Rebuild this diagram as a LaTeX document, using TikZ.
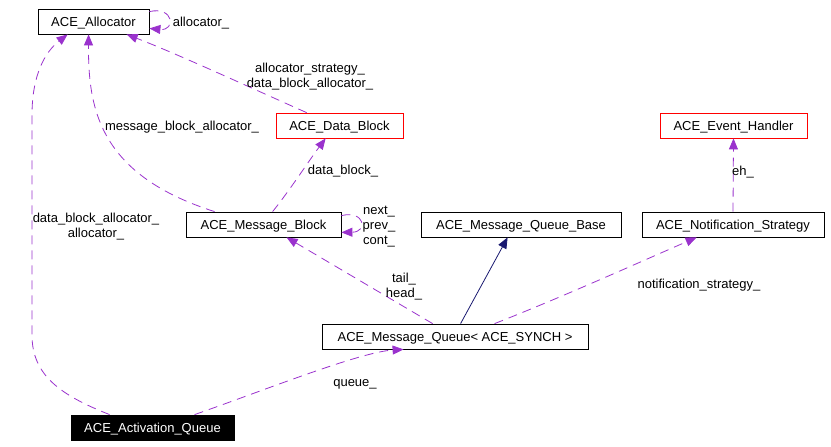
\documentclass[tikz,border=0pt]{standalone}
\usepackage{fontspec}
\setmainfont{Liberation Sans}
\usetikzlibrary{arrows.meta,calc}
\definecolor{edgepurple}{HTML}{9A32CD}
\definecolor{edgenavy}{HTML}{191970}
\begin{document}
\begin{tikzpicture}[x=1pt,y=-1pt,
  font=\fontsize{13}{15}\selectfont,
  cls/.style={draw=black, line width=0.8pt, inner sep=0pt, fill=white, minimum height=25pt,
              text height=9.4pt, text depth=0pt},
  redcls/.style={cls, draw=red},
  usage/.style={draw=edgepurple, line width=0.8pt, dash pattern=on 9pt off 6pt,
                -{Triangle[length=11pt,width=9pt,fill=edgepurple]}},
  inherit/.style={draw=edgenavy, line width=0.8pt,
                -{Triangle[length=11pt,width=9pt,fill=edgenavy]}},
  lbl/.style={inner sep=0pt, text height=9.4pt, text depth=0pt},
  mlbl/.style={inner sep=0pt, align=center}]
\useasboundingbox (0,0) rectangle (831,447);

% classes
\node[cls, minimum width=111pt] (alloc) at (93.5,21.5) {ACE\_Allocator};
\node[redcls, minimum width=127pt] (db) at (339.5,125.5) {ACE\_Data\_Block};
\node[redcls, minimum width=147pt] (eh) at (733.5,125.5) {ACE\_Event\_Handler};
\node[cls, minimum width=155pt] (mb) at (263.5,224.5) {ACE\_Message\_Block};
\node[cls, minimum width=200pt] (mqb) at (521,224.5) {ACE\_Message\_Queue\_Base};
\node[cls, minimum width=182pt] (ns) at (733,224.5) {ACE\_Notification\_Strategy};
\node[cls, minimum width=266pt] (mq) at (455,336.5) {ACE\_Message\_Queue< ACE\_SYNCH >};
\node[cls, fill=black, text=white, minimum width=163pt] (aq) at (152.5,427.5) {ACE\_Activation\_Queue};

% connectors
\draw[usage] ($(alloc.north east)+(0,3)$) .. controls (174,6) and (176,31) .. ($(alloc.south east)+(0,-6)$);
\draw[usage] ($(db.north west)+(31,0)$) .. controls (260,92) and (180,55) .. ($(alloc.south west)+(89,0)$);
\draw[usage] ($(mb.north west)+(29,0)$) .. controls (100,175) and (88,110) .. ($(alloc.south west)+(51,0)$);
\draw[usage] ($(aq.north west)+(39,0)$) .. controls (60,395) and (32,375) .. (32,335)
   -- (32,115) .. controls (32,75) and (45,52) .. ($(alloc.south west)+(30,0)$);
\draw[usage] ($(mb.north west)+(87,0)$) .. controls (290,190) and (308,162) .. ($(db.south west)+(50,0)$);
\draw[usage] ($(mb.north east)+(0,4)$) .. controls (365,210) and (368,232) .. ($(mb.south east)+(0,-5)$);
\draw[usage] ($(mq.north west)+(111,0)$) -- ($(mb.south west)+(101,0)$);
\draw[inherit] ($(mq.north west)+(139,0)$) -- ($(mqb.south west)+(87,0)$);
\draw[usage] ($(mq.north west)+(173,0)$) .. controls (560,298) and (640,262) .. ($(ns.south west)+(55,0)$);
\draw[usage] (ns.north) -- (eh.south);
\draw[usage] ($(aq.north west)+(124,0)$) .. controls (265,390) and (360,352) .. ($(mq.south west)+(82,0)$);

% labels
\node[lbl] (l1) at (201,21.5) {allocator\_};
\node[mlbl] (l2) at (310,76.5) {allocator\_strategy\_\\data\_block\_allocator\_};
\node[lbl] (l3) at (182,125.5) {message\_block\_allocator\_};
\node[lbl] (l4) at (343,169.5) {data\_block\_};
\node[mlbl] (l5) at (96,227) {data\_block\_allocator\_\\allocator\_};
\node[mlbl] (l6) at (379,226.5) {next\_\\prev\_\\cont\_};
\node[mlbl] (l7) at (404,287) {tail\_\\head\_};
\node[lbl] (l8) at (699,284) {notification\_strategy\_};
\node[lbl] (l9) at (743,170.5) {eh\_};
\node[lbl] (l10) at (355,381.5) {queue\_};
\end{tikzpicture}
\end{document}
